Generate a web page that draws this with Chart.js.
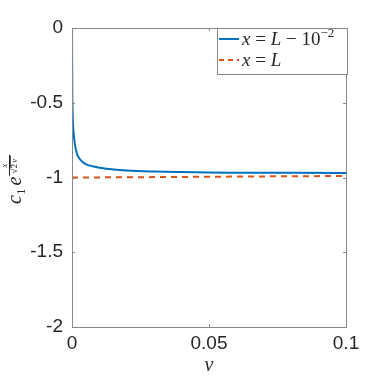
<!DOCTYPE html>
<html>
<head>
<meta charset="utf-8">
<script src="https://cdn.jsdelivr.net/npm/chart.js@4"></script>
<style>
  html, body { margin: 0; padding: 0; background: #fff; }
  #wrap { width: 382px; height: 382px; }
</style>
</head>
<body>
<div id="wrap"><canvas id="chart" width="382" height="382"></canvas></div>
<script>
// Données
const nuValues = [0, 0.0001, 0.0003, 0.0005, 0.001, 0.0015, 0.002, 0.003, 0.005, 0.0075, 0.01, 0.015, 0.02, 0.03, 0.04, 0.05, 0.06, 0.08, 0.1];
const courbeProche = [0, -0.4, -0.6, -0.68, -0.77, -0.82, -0.85, -0.88, -0.91, -0.925, -0.935, -0.946, -0.953, -0.96, -0.964, -0.967, -0.968, -0.969, -0.97];
const nuBord = [0, 0.025, 0.05, 0.075, 0.1];
const courbeBord = [-1, -0.998, -0.995, -0.992, -0.99];
const xTicks = [0, 0.05, 0.1];
const yTicks = [0, -0.5, -1, -1.5, -2];

const bleu = '#0072BD';
const orange = '#D95319';
const gris = '#262626';

function points(xs, ys) {
    return xs.map((x, i) => ({ x: x, y: ys[i] }));
}

// Cadre, graduations internes, légende et titres
const decorPlugin = {
    id: 'decor',
    afterDraw(chart) {
        const ctx = chart.ctx;
        const a = chart.chartArea;
        const xs = chart.scales.x;
        const ys = chart.scales.y;
        ctx.save();
        ctx.strokeStyle = '#8a8a8a';
        ctx.lineWidth = 1;
        ctx.strokeRect(Math.round(a.left) + 0.5, Math.round(a.top) + 0.5,
            Math.round(a.right - a.left), Math.round(a.bottom - a.top));
        ctx.beginPath();
        xTicks.forEach(v => {
            const px = Math.round(xs.getPixelForValue(v)) + 0.5;
            ctx.moveTo(px, a.bottom); ctx.lineTo(px, a.bottom - 3);
            ctx.moveTo(px, a.top); ctx.lineTo(px, a.top + 3);
        });
        yTicks.forEach(v => {
            const py = Math.round(ys.getPixelForValue(v)) + 0.5;
            ctx.moveTo(a.left, py); ctx.lineTo(a.left + 3, py);
            ctx.moveTo(a.right, py); ctx.lineTo(a.right - 3, py);
        });
        ctx.stroke();

        // Légende
        const lx = 217, ly = 28, lw = 130, lh = 46;
        ctx.fillStyle = '#fff';
        ctx.fillRect(lx, ly, lw, lh);
        ctx.strokeStyle = '#8a8a8a';
        ctx.strokeRect(lx + 0.5, ly + 0.5, lw, lh);
        ctx.lineWidth = 2;
        ctx.strokeStyle = bleu;
        ctx.beginPath(); ctx.moveTo(219, 39); ctx.lineTo(239, 39); ctx.stroke();
        ctx.strokeStyle = orange;
        ctx.setLineDash([5, 4]);
        ctx.beginPath(); ctx.moveTo(219, 60); ctx.lineTo(239, 60); ctx.stroke();
        ctx.setLineDash([]);

        ctx.fillStyle = gris;
        ctx.textBaseline = 'alphabetic';
        ctx.textAlign = 'left';
        const it = 'italic 19px "Liberation Serif"';
        const rm = '19px "Liberation Serif"';
        function morceaux(x, y, parts) {
            parts.forEach(p => {
                ctx.font = p[1];
                ctx.fillText(p[0], x, y + (p[2] || 0));
                x += ctx.measureText(p[0]).width;
            });
        }
        morceaux(242, 45, [['x', it], [' = ', rm], ['L', it], [' \u2212 ', rm], ['10', rm], ['\u22122', '13px "Liberation Serif"', -8]]);
        morceaux(242, 66, [['x', it], [' = ', rm], ['L', it]]);

        // Titre de l'axe x
        ctx.font = 'italic 20px "Liberation Serif"';
        ctx.textAlign = 'center';
        ctx.fillText('\u03bd', 209, 371);

        // Titre de l'axe y (vertical)
        ctx.translate(21, 177);
        ctx.rotate(-Math.PI / 2);
        ctx.textAlign = 'left';
        let x = -27;
        ctx.font = 'italic 20px "Liberation Serif"';
        ctx.fillText('c', x, 0); x += ctx.measureText('c').width;
        ctx.font = '13px "Liberation Serif"';
        ctx.fillText('1', x, 4); x += ctx.measureText('1').width + 3;
        ctx.font = 'italic 20px "Liberation Serif"';
        ctx.fillText('e', x, 0); x += ctx.measureText('e').width + 1;
        // exposant x / sqrt(2 nu)
        ctx.font = 'italic 9px "Liberation Serif"';
        ctx.textAlign = 'center';
        ctx.fillText('x', x + 10, -14);
        ctx.fillRect(x, -12, 21, 1);
        ctx.font = '9px "Liberation Serif"';
        ctx.fillText('\u221a2', x + 7, -4);
        ctx.font = 'italic 9px "Liberation Serif"';
        ctx.fillText('\u03bd', x + 15, -4);
        ctx.fillRect(x + 8, -11, 12, 0.8);
        ctx.restore();
    }
};

const ctx = document.getElementById('chart').getContext('2d');
const chart = new Chart(ctx, {
    type: 'line',
    data: {
        datasets: [{
            label: 'x = L - 10^-2',
            data: points(nuValues, courbeProche),
            borderColor: bleu,
            borderWidth: 2,
            pointRadius: 0,
            cubicInterpolationMode: 'monotone',
            fill: false
        }, {
            label: 'x = L',
            data: points(nuBord, courbeBord),
            borderColor: orange,
            borderWidth: 2,
            borderDash: [6, 5],
            pointRadius: 0,
            fill: false
        }]
    },
    options: {
        responsive: false,
        animation: false,
        layout: { padding: { top: 28, right: 36, left: 0, bottom: 0 } },
        plugins: {
            legend: { display: false },
            tooltip: { enabled: false }
        },
        scales: {
            x: {
                type: 'linear',
                min: 0,
                max: 0.1,
                afterBuildTicks: function(scale) {
                    scale.ticks = xTicks.map(v => ({ value: v }));
                },
                afterFit: function(scale) { scale.height = 55; },
                grid: { display: false, drawTicks: false },
                border: { display: false },
                ticks: {
                    padding: 5,
                    color: gris,
                    maxRotation: 0,
                    font: { family: '"Liberation Sans"', size: 19 },
                    callback: function(v) { return String(v); }
                }
            },
            y: {
                type: 'linear',
                min: -2,
                max: 0,
                afterBuildTicks: function(scale) {
                    scale.ticks = yTicks.map(v => ({ value: v }));
                },
                afterFit: function(scale) { scale.width = 72; },
                grid: { display: false, drawTicks: false },
                border: { display: false },
                ticks: {
                    padding: 9,
                    color: gris,
                    font: { family: '"Liberation Sans"', size: 19 },
                    callback: function(v) { return String(v); }
                }
            }
        }
    },
    plugins: [decorPlugin]
});
</script>
</body>
</html>
